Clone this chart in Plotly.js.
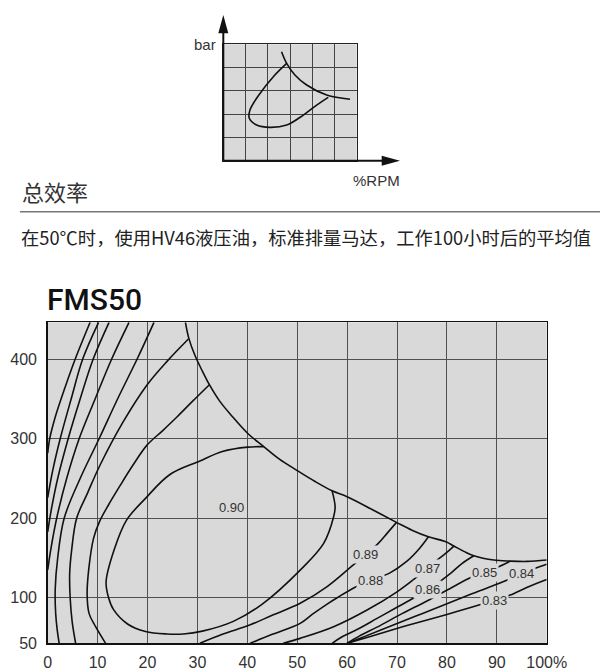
<!DOCTYPE html>
<html>
<head>
<meta charset="utf-8">
<script src="https://cdn.plot.ly/plotly-3.0.1.min.js"></script>
<style>
html,body{margin:0;padding:0;background:#fff;}
#chart{width:600px;height:670px;}
</style>
</head>
<body>
<div id="chart"></div>
<script>
// ---------- DATA ----------
const chartTitle = "FMS50";
const sectionTitle = "总效率";
const subtitle = "在50℃时，使用HV46液压油，标准排量马达，工作100小时后的平均值";
const xTickVals = [0,10,20,30,40,50,60,70,80,90,100];
const xTickText = ["0","10","20","30","40","50","60","70","80","90","100%"];
const yTickVals = [42.7,100,200,300,400];
const yTickText = ["50","100","200","300","400"];

// envelope (limit) curve
const envX = [27.6,28.3,29.5,31,32.4,34.5,37,40.1,43.3,46.5,50,53.5,57,60,65,69.9,73,76.3,79.8,81.4,83.5,85.4,89.4,92.7,96.1,100];
const envY = [446.5,426,405,385,368,347,328,306.6,290,274,260,246.5,234.5,227,211,194.8,185,176.7,170.4,165,158,152.8,147.4,146.1,145.7,147.4];

// 0.90 island
const eff90X = [43.3,40.1,35,30.5,24.5,19.6,15.8,13.3,11.7,12.2,13.2,16,19.6,23.9,27.2,31,37.2,43,50.6,55.3,57.3,57.6,57];
const eff90Y = [290,289.5,284,272,255,225,197.6,160,120,100,85,67,57.5,54.4,54.4,58,70.3,92,134.8,168.4,201.8,214.4,234.5];

// left-hand (unlabelled) contours
const lA_X = [32.4,29,26,23,19.9,17,14.5,12.2,10.4,9.2,8.3,7.9,8.3,9.6,11.6];
const lA_Y = [368,347,328,310,292,266,241,217,196,175,140,105,80,63.6,42.7];
const lB_X = [28.2,24,19.9,15,10.5,8,5.8,4.8,4.4,4.5,4.9,5.6];
const lB_Y = [425.5,398,367.7,320,267,232,200,160,130,100,70,42.7];
const lC_X = [21.3,17.9,14,10.3,6.5,3.3,2.0,1.5,1.6,1.9,2.3];
const lC_Y = [446.5,400,350,300,250,200,150,110,80,60,42.7];
const lD_X = [16.3,12.8,9.5,6.3,3.8,1.8,0.6,0];
const lD_Y = [446.5,400,350,300,250,200,160,135];
const lE_X = [12.3,9.1,6.5,4.1,2.0,0.7,0];
const lE_Y = [446.5,400,350,300,250,210,183];
const lF_X = [10.2,7.0,4.7,2.5,1.0,0];
const lF_Y = [446.5,400,350,300,260,226];
const lG_X = [8.5,5.5,3.5,1.5,0.4,0];
const lG_Y = [446.5,400,365,327,300,282];

// right-hand labelled contours
const eff89X = [69.9,68,66.2,63.6,61,56,50.6,45,40.6,35,30.5];
const eff89Y = [194.8,181,168,154,140,114,93,78,66,54,42.7];
const eff88X = [76.3,74.5,72,68.5,64.7,61.5,58,56,53,50.6,45,40.6];
const eff88Y = [176.7,162,146,131,122,113,100,92,79,67.8,54,42.7];
const eff87X = [81.4,79.8,78,76.1,74,70,64,57.3,50.6,47.2];
const eff87Y = [165,156,147,137,126.3,107.5,84.5,63.5,48.9,42.7];
const eff86X = [85.4,83,80.8,78.7,76.2,73.7,70,66,62,59,57];
const eff86Y = [152.8,143,131,121,110,101,88,74,60,51,42.7];
const eff85X = [92.7,90,87.5,85,81,76,71,66,62.5,60];
const eff85Y = [146.1,138,132,126,113,96,80,63,52,42.7];
const eff84X = [100,97.7,94.9,92,85,75,67,63,60];
const eff84Y = [142,137,130,122,105,80,60,50,42.7];
const eff83X = [100,96,92.7,89.5,86.4,80,72,65,60];
const eff83Y = [123,113,103.4,97,90.8,79,65,52,42.7];

// contour labels
const labelText = ["0.90","0.89","0.88","0.87","0.86","0.85","0.84","0.83"];
const labelX = [36.9,63.6,64.7,76.1,76.2,87.5,94.9,89.5];
const labelY = [213.6,154,122,137,110,132,130,97];

// small icon chart (grid units)
const miniEnvX = [2.62,2.85,3.22,3.75,4.65,5.70];
const miniEnvY = [4.68,4.18,3.68,3.25,2.82,2.64];
const miniLoopX = [2.85,2.25,1.65,1.2,1.17,1.5,2.1,2.85,3.6,4.2,4.72];
const miniLoopY = [4.18,3.61,2.89,2.18,1.82,1.53,1.43,1.53,1.96,2.39,2.72];

// ---------- FIGURE ----------
const W = 600, H = 670;
const px = x => x / W;
const py = y => (H - y) / H;
const bg = "#d9d9d9";
const txt = "#333333";
const lineStyle = {color:"#111111", width:1.6, shape:"spline", smoothing:1};

function curve(xs, ys, ax){
  return {x:xs, y:ys, type:"scatter", mode:"lines", line:lineStyle,
          hoverinfo:"skip", showlegend:false, xaxis:ax?"x2":"x", yaxis:ax?"y2":"y"};
}

const traces = [
  curve(envX, envY), curve(eff90X, eff90Y),
  curve(lA_X, lA_Y), curve(lB_X, lB_Y), curve(lC_X, lC_Y), curve(lD_X, lD_Y),
  curve(lE_X, lE_Y), curve(lF_X, lF_Y), curve(lG_X, lG_Y),
  curve(eff89X, eff89Y), curve(eff88X, eff88Y), curve(eff87X, eff87Y),
  curve(eff86X, eff86Y), curve(eff85X, eff85Y), curve(eff84X, eff84Y), curve(eff83X, eff83Y),
  curve(miniEnvX, miniEnvY, true), curve(miniLoopX, miniLoopY, true)
];

const annotations = labelText.map((t,i)=>({
  x:labelX[i], y:labelY[i], xref:"x", yref:"y", text:t, showarrow:false,
  font:{family:"Liberation Sans, Arial, sans-serif", size:13, color:txt},
  bgcolor:bg, borderpad:1
}));

annotations.push(
  {x:px(45), y:py(299), xref:"paper", yref:"paper", xanchor:"left", yanchor:"middle",
   text:chartTitle, showarrow:false,
   font:{family:"Roboto, Liberation Sans, sans-serif", size:30, weight:500, color:"#111"}},
  {x:px(20), y:py(191), xref:"paper", yref:"paper", xanchor:"left", yanchor:"middle",
   text:sectionTitle, showarrow:false,
   font:{family:"Noto Sans CJK SC, sans-serif", size:22, color:txt}},
  {x:px(19), y:py(237), xref:"paper", yref:"paper", xanchor:"left", yanchor:"middle",
   text:subtitle, showarrow:false,
   font:{family:"Noto Sans CJK SC, sans-serif", size:18.3, color:"#222"}},
  {x:px(218), y:py(44), xref:"paper", yref:"paper", xanchor:"right", yanchor:"middle",
   text:"bar", showarrow:false,
   font:{family:"Liberation Sans, Arial, sans-serif", size:15, color:txt}},
  {x:px(376), y:py(180), xref:"paper", yref:"paper", xanchor:"center", yanchor:"middle",
   text:"%RPM", showarrow:false,
   font:{family:"Liberation Sans, Arial, sans-serif", size:15, color:txt}}
);

const shapes = [
  // separator line
  {type:"line", xref:"paper", yref:"paper", x0:px(20), x1:px(600), y0:py(211.7), y1:py(211.7),
   line:{color:"#777", width:1.5}},
  // mini y-axis arrow
  {type:"line", xref:"paper", yref:"paper", x0:px(223.3), x1:px(223.3), y0:py(160.7), y1:py(32),
   line:{color:"#111", width:2}},
  {type:"path", xref:"paper", yref:"paper",
   path:`M ${px(223.3)} ${py(15)} L ${px(218.3)} ${py(33.3)} L ${px(228.3)} ${py(33.3)} Z`,
   fillcolor:"#111", line:{width:0}},
  // mini x-axis arrow
  {type:"line", xref:"paper", yref:"paper", x0:px(223.3), x1:px(383), y0:py(160.7), y1:py(160.7),
   line:{color:"#111", width:2}},
  {type:"path", xref:"paper", yref:"paper",
   path:`M ${px(400)} ${py(160.7)} L ${px(381.7)} ${py(155.7)} L ${px(381.7)} ${py(165.7)} Z`,
   fillcolor:"#111", line:{width:0}}
];

const tickFont = {family:"Liberation Sans, Arial, sans-serif", size:16, color:txt};

const layout = {
  width:W, height:H,
  margin:{l:0, r:0, t:0, b:0},
  paper_bgcolor:"#ffffff",
  plot_bgcolor:bg,
  showlegend:false,
  xaxis:{domain:[px(47.7), px(546.7)], range:[0,100], tickmode:"array",
         tickvals:xTickVals, ticktext:xTickText, ticks:"", tickfont:tickFont,
         showgrid:true, gridcolor:"#505050", gridwidth:1, zeroline:false,
         showline:true, mirror:true, linecolor:"#111", linewidth:1.5,
         ticklabelstandoff:4, fixedrange:true},
  yaxis:{domain:[py(643.3), py(322.3)], range:[42.7,446.5], tickmode:"array",
         tickvals:yTickVals, ticktext:yTickText, ticks:"", tickfont:tickFont,
         showgrid:true, gridcolor:"#505050", gridwidth:1, zeroline:false,
         showline:true, mirror:true, linecolor:"#111", linewidth:1.5,
         ticklabelstandoff:6, fixedrange:true},
  xaxis2:{domain:[px(223.3), px(356.7)], range:[0,6], dtick:1, anchor:"y2",
          showticklabels:false, ticks:"", showgrid:true, gridcolor:"#444", gridwidth:1,
          zeroline:false, showline:true, mirror:true, linecolor:"#222", linewidth:1.5, fixedrange:true},
  yaxis2:{domain:[py(160.7), py(44.3)], range:[0,5], dtick:1, anchor:"x2",
          showticklabels:false, ticks:"", showgrid:true, gridcolor:"#444", gridwidth:1,
          zeroline:false, showline:true, mirror:true, linecolor:"#222", linewidth:1.5, fixedrange:true},
  annotations:annotations,
  shapes:shapes
};

Plotly.newPlot("chart", traces, layout, {staticPlot:true, displayModeBar:false});
</script>
</body>
</html>
